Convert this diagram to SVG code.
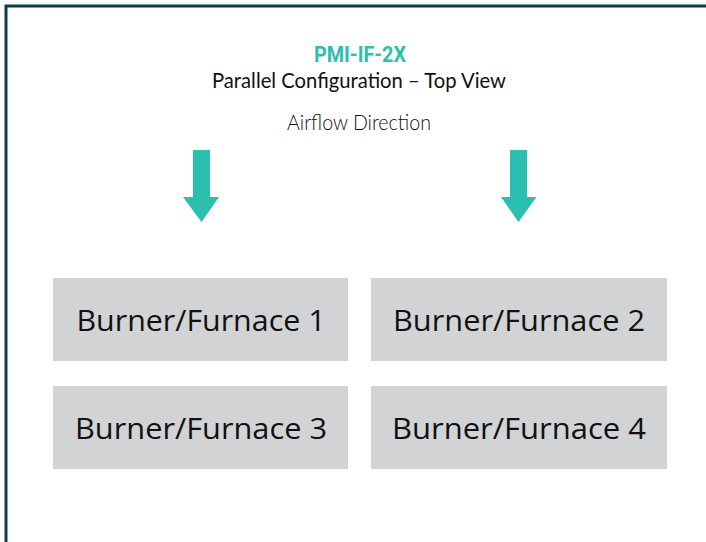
<svg xmlns="http://www.w3.org/2000/svg" width="706" height="542" viewBox="0 0 706 542">
<style>
.box{fill:#d2d3d5}
.lbl{font-family:"Open Sans","Liberation Sans",sans-serif;font-size:30px;fill:#111111;text-anchor:middle}
.arrow{fill:#2bbfb0}
</style>
<rect x="0" y="0" width="706" height="542" fill="#ffffff"/>
<path d="M6 542 V6 H706" fill="none" stroke="#0d3e4b" stroke-width="3"/>
<text x="360" y="62" font-family="Roboto,'Liberation Sans',sans-serif" font-weight="700" font-size="22" fill="#2bbfb0" text-anchor="middle" textLength="92" lengthAdjust="spacingAndGlyphs">PMI-IF-2X</text>
<text x="359" y="88" font-family="Lato,'Liberation Sans',sans-serif" font-size="22" fill="#111111" text-anchor="middle" textLength="294" lengthAdjust="spacingAndGlyphs">Parallel Configuration – Top View</text>
<text x="359" y="130" font-family="Lato,'Liberation Sans',sans-serif" font-weight="300" font-size="21" fill="#111111" text-anchor="middle" textLength="144" lengthAdjust="spacingAndGlyphs">Airflow Direction</text>
<g id="connectors">
<path class="arrow" d="M193 150 H210 V197 H219 L201.5 222 L183 197 H193 Z"/>
<path class="arrow" d="M510 150 H527 V197 H536.5 L518.5 222 L501 197 H510 Z"/>
</g>
<g id="node1"><rect class="box" x="53" y="278" width="295" height="83"/><text class="lbl" x="201" y="331" textLength="249" lengthAdjust="spacingAndGlyphs">Burner/Furnace 1</text></g>
<g id="node2"><rect class="box" x="371" y="278" width="296" height="83"/><text class="lbl" x="519" y="331" textLength="252" lengthAdjust="spacingAndGlyphs">Burner/Furnace 2</text></g>
<g id="node3"><rect class="box" x="53" y="386" width="295" height="83"/><text class="lbl" x="201" y="439" textLength="252" lengthAdjust="spacingAndGlyphs">Burner/Furnace 3</text></g>
<g id="node4"><rect class="box" x="371" y="386" width="296" height="83"/><text class="lbl" x="519" y="439" textLength="254" lengthAdjust="spacingAndGlyphs">Burner/Furnace 4</text></g>
</svg>
